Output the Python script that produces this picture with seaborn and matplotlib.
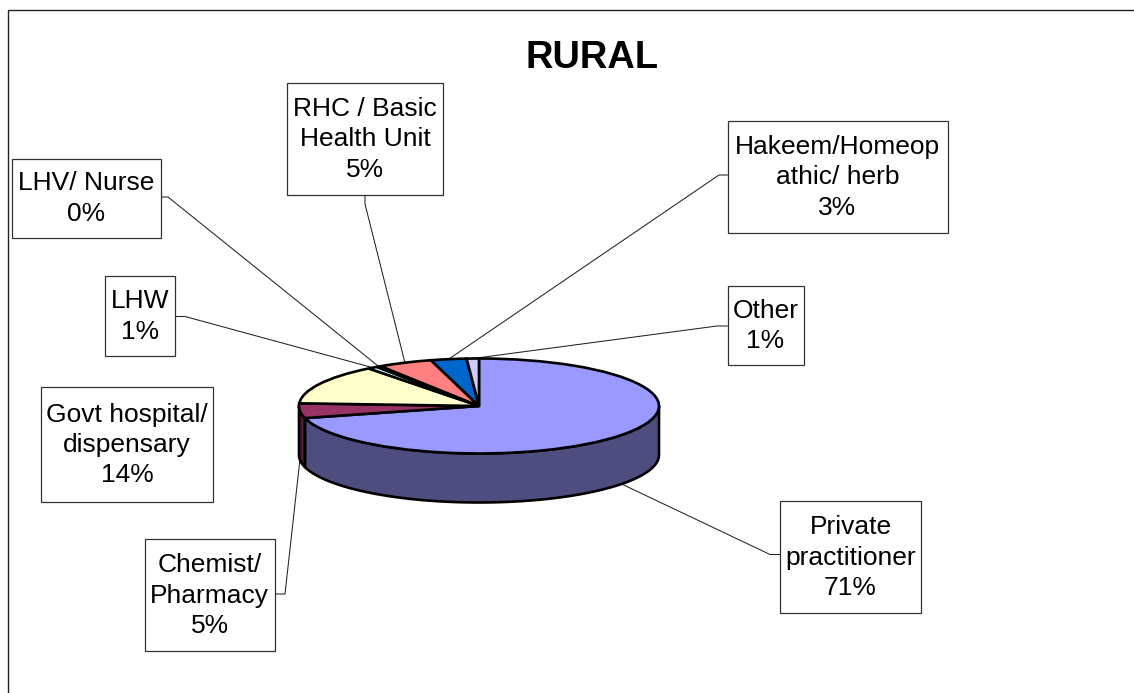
import numpy as np
import seaborn as sns
import matplotlib
matplotlib.use('Agg')
import matplotlib.pyplot as plt
from matplotlib.patches import Rectangle, Polygon

# slices, clockwise from 12 o'clock
labels = ['Private\npractitioner', 'Chemist/\nPharmacy', 'Govt hospital/\ndispensary', 'LHW',
          'LHV/ Nurse', 'RHC / Basic\nHealth Unit', 'Hakeem/Homeop\nathic/ herb', 'Other']
values = [70.9, 5.0, 13.6, 0.9, 0.4, 4.9, 3.2, 1.1]
colors = sns.color_palette(['#9999FF', '#993366', '#FFFFCC', '#CCFFFF',
                            '#660066', '#FF8080', '#0066CC', '#CCCCFF'])

# label boxes in pixels: left, top, right, bottom
boxes = [(780, 501, 921, 613), (145, 539, 274.5, 651), (41, 387, 213, 502), (105, 276, 175, 356),
         (12, 158.5, 160.5, 237.5), (287, 83, 443, 195), (727.5, 121, 947.5, 233), (727.5, 286, 803.5, 365)]
# where the leader leaves the box and its elbow, None = no leader
leaders = [((780, 554.5), (770, 554.5)), ((274.5, 594), (285, 594)), None, ((175, 316.5), (185, 316.5)),
           ((160.5, 197), (168, 197)), ((365, 195), (365, 204)), ((727.5, 175), (719, 175)), ((727.5, 326), (717, 326))]

W, H = 1134, 693
cx, cy, rx, ry, depth = 479, 406, 180, 47.5, 49

sns.set_theme(style='white')
plt.rcParams['font.family'] = ['Liberation Sans', 'DejaVu Sans']

fig = plt.figure(figsize=(W / 100, H / 100), dpi=100)
ax = fig.add_axes([0, 0, 1, 1])
ax.set_xlim(0, W)
ax.set_ylim(H, 0)
ax.axis('off')

# chart frame, only left and top are inside the picture
ax.plot([W, 7.5, 7.5], [10, 10, H], color='#222222', lw=1.0, solid_joinstyle='miter')

ax.text(591.5, 58.5, 'RURAL', ha='center', va='center', fontsize=27.4, fontweight='bold', color='black')

# slice limits in degrees, maths convention
ends = 90 - np.cumsum(values) * 3.6
starts = np.r_[90, ends[:-1]]


def rim(a):
    a = np.radians(a)
    return cx + rx * np.cos(a), cy - ry * np.sin(a)


# side wall, front half only
for s, e, c in zip(starts, ends, colors):
    a1, a2 = max(e, -180), min(s, 0)
    if a1 >= a2:
        continue
    t = np.linspace(a1, a2, 60)
    x, y = rim(t)
    pts = np.r_[np.c_[x, y], np.c_[x[::-1], y[::-1] + depth]]
    ax.add_patch(Polygon(pts, closed=True, facecolor=np.array(c) * 0.5, edgecolor='black',
                         lw=1.9, zorder=2, joinstyle='round'))

# label boxes and leaders
for i, (lab, val) in enumerate(zip(labels, values)):
    l, t, r, b = boxes[i]
    ax.add_patch(Rectangle((l, t), r - l, b - t, facecolor='white', edgecolor='#333333', lw=0.9, zorder=3))
    ax.text((l + r) / 2, (t + b) / 2 + 0.5, '%s\n%d%%' % (lab, round(val)), ha='center', va='center',
            fontsize=19, color='black', linespacing=1.33, zorder=4)
    if leaders[i] is not None:
        mid = (starts[i] + ends[i]) / 2
        x, y = rim(mid)
        if np.sin(np.radians(mid)) < 0:
            y += depth
        p0, p1 = leaders[i]
        ax.plot([p0[0], p1[0], x], [p0[1], p1[1], y], color='#222222', lw=0.75, zorder=1)

# top of the pie, squashed by stretching its axes
pie_ax = fig.add_axes([(cx - rx) / W, 1 - (cy + ry) / H, 2 * rx / W, 2 * ry / H])
pie_ax.pie(values, colors=colors, startangle=90, counterclock=False, radius=1,
           wedgeprops=dict(edgecolor='black', linewidth=1.9, clip_on=False))
pie_ax.set_xlim(-1, 1)
pie_ax.set_ylim(-1, 1)
pie_ax.set_aspect('auto')
pie_ax.patch.set_visible(False)

fig.savefig('out.png', dpi=100)
